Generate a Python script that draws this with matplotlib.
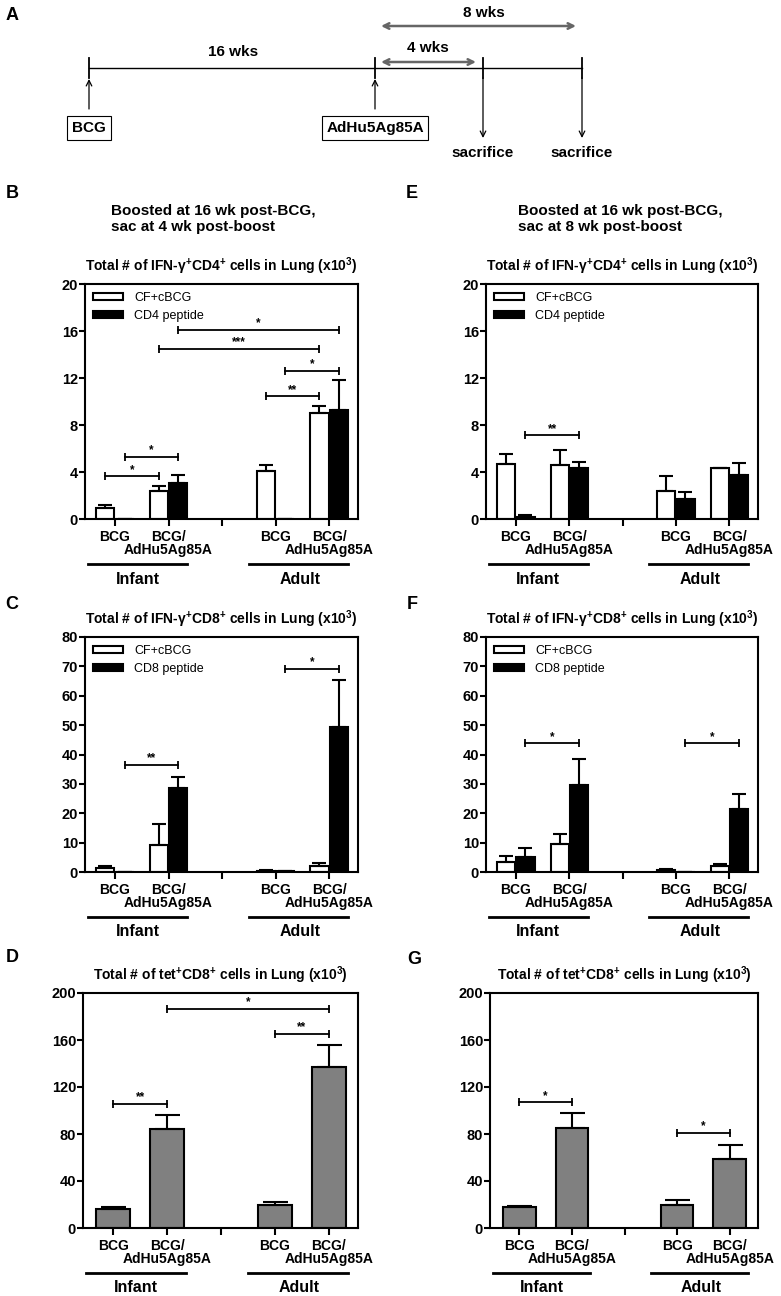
import matplotlib
matplotlib.use('Agg')
import matplotlib.pyplot as plt
import matplotlib.transforms as mtransforms

plt.rcParams['font.family'] = ['Liberation Sans', 'DejaVu Sans']
plt.rcParams['mathtext.fontset'] = 'custom'
plt.rcParams['mathtext.rm'] = 'Liberation Sans:bold'
plt.rcParams['mathtext.bf'] = 'Liberation Sans:bold'
plt.rcParams['mathtext.it'] = 'Liberation Sans:bold:italic'
plt.rcParams['mathtext.default'] = 'rm'

# ---------------- data ----------------
categories = ['BCG', 'BCG/\nAdHu5Ag85A', 'BCG', 'BCG/\nAdHu5Ag85A']
cat_pos = [0, 1, 3, 4]
groups = ['Infant', 'Adult']
series_cd4 = ['CF+cBCG', 'CD4 peptide']
series_cd8 = ['CF+cBCG', 'CD8 peptide']

# B: IFN-g+ CD4+, 4 wk post-boost
B_white = [0.9, 2.35, 4.05, 9.0]
B_white_err = [0.3, 0.5, 0.55, 0.63]
B_black = [0.0, 3.1, 0.0, 9.3]
B_black_err = [0.0, 0.65, 0.0, 2.55]
B_sig = [(0, 'w', 1, 'w', 3.63, '*'), (0, 'k', 1, 'k', 5.28, '*'),
         (3, 'w', 4, 'w', 10.44, '**'), (3, 'k', 4, 'k', 12.62, '*'),
         (1, 'w', 4, 'w', 14.47, '***'), (1, 'k', 4, 'k', 16.11, '*')]

# E: IFN-g+ CD4+, 8 wk post-boost
E_white = [4.7, 4.57, 2.4, 4.3]
E_white_err = [0.8, 1.33, 1.25, 0.06]
E_black = [0.17, 4.34, 1.7, 3.75]
E_black_err = [0.2, 0.48, 0.6, 1.05]
E_sig = [(0, 'k', 1, 'k', 7.12, '**')]

# C: IFN-g+ CD8+, 4 wk post-boost
C_white = [1.5, 9.1, 0.45, 2.1]
C_white_err = [0.6, 7.4, 0.35, 1.1]
C_black = [0.0, 28.5, 0.3, 49.4]
C_black_err = [0.0, 4.0, 0.1, 16.0]
C_sig = [(0, 'k', 1, 'k', 36.5, '**'), (3, 'k', 4, 'k', 69.2, '*')]

# F: IFN-g+ CD8+, 8 wk post-boost
F_white = [3.4, 9.4, 0.7, 1.9]
F_white_err = [2.2, 3.5, 0.35, 0.8]
F_black = [5.1, 29.6, 0.0, 21.6]
F_black_err = [3.1, 8.7, 0.0, 5.1]
F_sig = [(0, 'k', 1, 'k', 43.8, '*'), (3, 'k', 4, 'k', 43.8, '*')]

# D: tet+ CD8+, 4 wk post-boost
D_vals = [16.0, 84.5, 19.3, 136.7]
D_err = [1.5, 12.0, 3.0, 19.3]
D_sig = [(0, '', 1, '', 105.8, '**'), (3, '', 4, '', 165.0, '**'), (1, '', 4, '', 186.4, '*')]

# G: tet+ CD8+, 8 wk post-boost
G_vals = [17.6, 84.8, 19.3, 59.0]
G_err = [1.4, 12.8, 4.8, 11.4]
G_sig = [(0, '', 1, '', 107.0, '*'), (3, '', 4, '', 80.9, '*')]

title_cd4 = 'Total # of IFN-γ$^{+}$CD4$^{+}$ cells in Lung (x10$^{3}$)'
title_cd8 = 'Total # of IFN-γ$^{+}$CD8$^{+}$ cells in Lung (x10$^{3}$)'
title_tet = 'Total # of tet$^{+}$CD8$^{+}$ cells in Lung (x10$^{3}$)'

# ---------------- layout ----------------
W, H = 781, 1296
fig = plt.figure(figsize=(W / 100, H / 100), dpi=100)

LW = 1.5
OFF = {'w': -0.18, 'k': 0.18, '': 0.0}


def px_axes(l, t, r, b):
    return fig.add_axes([l / W, 1 - b / H, (r - l) / W, (b - t) / H])


def style_axes(ax, ymax, yticks, title):
    ax.set_xlim(-0.56, 4.54)
    ax.set_ylim(0, ymax)
    ax.set_yticks(yticks)
    ax.set_yticklabels([str(t) for t in yticks], fontweight='bold', fontsize=10.5)
    first_lines = [c.split('\n')[0] for c in categories]
    ax.set_xticks([0, 1, 2, 3, 4])
    ax.set_xticklabels([first_lines[0], first_lines[1], '', first_lines[2], first_lines[3]],
                       fontweight='bold', fontsize=10)
    ax.tick_params(axis='y', direction='out', length=4, width=LW, pad=1)
    ax.tick_params(axis='x', direction='out', length=5, width=LW, pad=3)
    for s in ax.spines.values():
        s.set_linewidth(LW)
    hpx = ax.get_position().height * H
    trans = mtransforms.blended_transform_factory(ax.transData, ax.transAxes)
    # second line of the two-line category labels
    for p, c in zip(cat_pos, categories):
        parts = c.split('\n')
        if len(parts) > 1:
            ax.text(p, -31 / hpx, parts[1], transform=trans, ha='center', va='center',
                    fontsize=10, fontweight='bold')
    for (x0, x1, xt), g in zip([(-0.5, 1.35, 0.42), (2.5, 4.35, 3.45)], groups):
        ax.plot([x0, x1], [-45 / hpx, -45 / hpx], color='k', lw=2, transform=trans, clip_on=False)
        ax.text(xt, -60 / hpx, g, transform=trans, ha='center', va='center',
                fontsize=11.5, fontweight='bold')
    ax.text(0.5, 1 + 18 / hpx, title, transform=ax.transAxes, ha='center', va='center',
            fontsize=10, fontweight='bold')


def sig_bars(ax, sigs, ymax):
    for c1, s1, c2, s2, y, lab in sigs:
        x1 = c1 + OFF[s1]
        x2 = c2 + OFF[s2]
        ax.plot([x1, x2], [y, y], color='k', lw=1.3, marker='|', markersize=6, mew=1.3,
                clip_on=False)
        ax.text((x1 + x2) / 2, y + ymax * 0.002, lab, ha='center', va='bottom',
                fontsize=8.5, fontweight='bold')


def pair_panel(box, ymax, yticks, title, white, white_err, black, black_err, labels, sigs):
    ax = px_axes(*box)
    xw = [p + OFF['w'] for p in cat_pos]
    xk = [p + OFF['k'] for p in cat_pos]
    ax.bar(xw, white, width=0.34, color='white', edgecolor='k', linewidth=LW, label=labels[0], zorder=2)
    ax.bar(xk, black, width=0.34, color='black', edgecolor='k', linewidth=LW, label=labels[1], zorder=2)
    ax.errorbar(xw, white, yerr=[[0] * 4, white_err], fmt='none', ecolor='k', elinewidth=LW,
                capsize=5, capthick=LW, zorder=3)
    ax.errorbar(xk, black, yerr=[[0] * 4, black_err], fmt='none', ecolor='k', elinewidth=LW,
                capsize=5, capthick=LW, zorder=3)
    style_axes(ax, ymax, yticks, title)
    sig_bars(ax, sigs, ymax)
    ax.legend(loc='upper left', frameon=False, fontsize=9, handlelength=2.4, handleheight=0.55,
              borderaxespad=0.25, labelspacing=0.45, handletextpad=0.9)
    return ax


def single_panel(box, ymax, yticks, title, vals, err, sigs):
    ax = px_axes(*box)
    ax.bar(cat_pos, vals, width=0.62, color='#808080', edgecolor='k', linewidth=LW, zorder=2)
    ax.errorbar(cat_pos, vals, yerr=[[0] * 4, err], fmt='none', ecolor='k', elinewidth=LW,
                capsize=9, capthick=LW, zorder=3)
    style_axes(ax, ymax, yticks, title)
    sig_bars(ax, sigs, ymax)
    return ax


pair_panel((85, 284, 358, 519), 20, [0, 4, 8, 12, 16, 20], title_cd4,
           B_white, B_white_err, B_black, B_black_err, series_cd4, B_sig)
pair_panel((486, 284, 758, 519), 20, [0, 4, 8, 12, 16, 20], title_cd4,
           E_white, E_white_err, E_black, E_black_err, series_cd4, E_sig)
pair_panel((85, 637, 358, 872), 80, [0, 10, 20, 30, 40, 50, 60, 70, 80], title_cd8,
           C_white, C_white_err, C_black, C_black_err, series_cd8, C_sig)
pair_panel((486, 637, 758, 872), 80, [0, 10, 20, 30, 40, 50, 60, 70, 80], title_cd8,
           F_white, F_white_err, F_black, F_black_err, series_cd8, F_sig)
single_panel((83, 993, 358, 1228), 200, [0, 40, 80, 120, 160, 200], title_tet, D_vals, D_err, D_sig)
single_panel((490, 993, 758, 1228), 200, [0, 40, 80, 120, 160, 200], title_tet, G_vals, G_err, G_sig)

# Subtitles
for x in (111, 518):
    wk = '4' if x < 300 else '8'
    fig.text(x / W, 1 - 219 / H, 'Boosted at 16 wk post-BCG,\nsac at %s wk post-boost' % wk,
             ha='left', va='center', fontsize=11, fontweight='bold', linespacing=1.25)

# Panel letters
for lab, x, y in [('A', 12, 16), ('B', 12, 193), ('C', 12, 604), ('D', 12, 958),
                  ('E', 412, 193), ('F', 412, 604), ('G', 414, 960)]:
    fig.text(x / W, 1 - y / H, lab, ha='center', va='center', fontsize=13, fontweight='bold')

# ---------------- panel A: timeline schematic ----------------
axA = fig.add_axes([0, 1 - 175 / H, 1, 175 / H])
axA.set_xlim(0, W)
axA.set_ylim(175, 0)
axA.axis('off')
axA.plot([89, 582], [68, 68], color='k', lw=1.0)
for x in (89, 375, 483, 582):
    axA.plot([x, x], [58, 78], color='k', lw=1.3)
for x in (89, 375):
    axA.annotate('', xy=(x, 79), xytext=(x, 109),
                 arrowprops=dict(arrowstyle='->', lw=0.9, color='k', shrinkA=0, shrinkB=0))
for x in (483, 582):
    axA.annotate('', xy=(x, 138), xytext=(x, 78),
                 arrowprops=dict(arrowstyle='->', lw=0.9, color='k', shrinkA=0, shrinkB=0))
    axA.text(x, 153, 'sacrifice', ha='center', va='center', fontsize=11, fontweight='bold')
for x, lab in ((89, 'BCG'), (375, 'AdHu5Ag85A')):
    axA.text(x, 128, lab, ha='center', va='center', fontsize=11, fontweight='bold',
             bbox=dict(boxstyle='square,pad=0.3', fc='white', ec='k', lw=0.8))
axA.annotate('', xy=(476, 62), xytext=(381, 62),
             arrowprops=dict(arrowstyle='<->', lw=1.8, color='#666666', shrinkA=0, shrinkB=0))
axA.annotate('', xy=(576, 26), xytext=(381, 26),
             arrowprops=dict(arrowstyle='<->', lw=1.8, color='#666666', shrinkA=0, shrinkB=0))
axA.text(233, 52, '16 wks', ha='center', va='center', fontsize=11, fontweight='bold')
axA.text(428, 48, '4 wks', ha='center', va='center', fontsize=11, fontweight='bold')
axA.text(484, 13, '8 wks', ha='center', va='center', fontsize=11, fontweight='bold')

fig.savefig('out.png', dpi=100)
